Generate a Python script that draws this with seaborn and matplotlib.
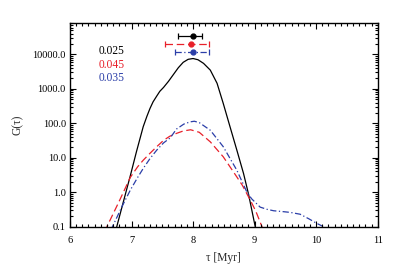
import matplotlib
matplotlib.use('Agg')
import matplotlib.pyplot as plt
import seaborn as sns
import pandas as pd
from matplotlib.ticker import FixedLocator, MultipleLocator, LogLocator, NullFormatter

# Curve data (tau in Myr, G(tau))
tau_black = [6.74, 6.76, 6.87, 6.98, 7.08, 7.19, 7.25, 7.30, 7.35, 7.41, 7.46, 7.52, 7.60,
             7.68, 7.76, 7.84, 7.92, 8.00, 8.08, 8.17, 8.28, 8.39, 8.49, 8.60, 8.71, 8.82,
             8.90, 9.01, 9.04]
g_black = [0.07, 0.1, 0.55, 3.0, 15, 80, 160, 270, 420, 620, 850, 1100, 1650,
           2600, 4100, 5900, 7200, 7600, 7000, 5500, 3500, 1450, 380, 80, 17, 3.5,
           0.9, 0.1, 0.06]

tau_red = [6.58, 6.60, 6.80, 6.98, 7.10, 7.19, 7.30, 7.41, 7.52, 7.62, 7.73, 7.84, 7.96,
           8.10, 8.28, 8.49, 8.71, 8.80, 8.93, 9.02, 9.12, 9.15]
g_red = [0.07, 0.1, 0.55, 2.7, 5.5, 8.5, 13.5, 21, 32, 42, 51, 60, 65,
         55, 29, 10.7, 2.8, 1.6, 0.59, 0.28, 0.1, 0.08]

tau_blue = [6.67, 6.69, 6.85, 6.98, 7.10, 7.19, 7.30, 7.41, 7.52, 7.63, 7.73, 7.85, 7.95,
            8.02, 8.10, 8.28, 8.49, 8.71, 8.87, 8.95, 9.09, 9.20, 9.31,
            9.45, 9.58, 9.74, 9.88, 10.01, 10.12, 10.15]
g_blue = [0.08, 0.1, 0.4, 1.15, 2.7, 4.9, 9.5, 16.7, 27, 38, 68, 95, 110,
          115, 105, 63, 21, 4.4, 1.05, 0.65, 0.37, 0.32, 0.29,
          0.275, 0.26, 0.23, 0.17, 0.125, 0.1, 0.09]

# Error bar points at the top
eb_labels = ['0.025', '0.045', '0.035']
eb_x = [8.0, 7.96, 8.0]
eb_y = [3.4e4, 2.0e4, 1.2e4]
eb_lo = [7.76, 7.54, 7.70]
eb_hi = [8.15, 8.26, 8.26]

ytick_vals = [0.1, 1, 10, 100, 1000, 10000]
ytick_labels = ['0.1', '1.0', '10.0', '100.0', '1000.0', '10000.0']

black = '#000000'
red = '#e8202a'
blue = '#2b3ea8'
colors = [black, red, blue]
styles = ['-', (0, (6, 3)), (0, (5, 2, 1, 2))]

sns.set_style('ticks')
plt.rcParams['font.family'] = ['Liberation Serif', 'DejaVu Serif']
plt.rcParams['xtick.direction'] = 'in'
plt.rcParams['ytick.direction'] = 'in'
plt.rcParams['xtick.major.size'] = 4
plt.rcParams['ytick.major.size'] = 4
plt.rcParams['xtick.minor.size'] = 2
plt.rcParams['ytick.minor.size'] = 2
plt.rcParams['axes.axisbelow'] = False

fig = plt.figure(figsize=(3.99, 2.73), dpi=100)
ax = fig.add_axes([0.1754, 0.1696, 0.7712, 0.7451])

curves = [(tau_black, g_black), (tau_red, g_red), (tau_blue, g_blue)]
for (t, g), c, ls in zip(curves, colors, styles):
    df = pd.DataFrame({'tau': t, 'G': g})
    sns.lineplot(data=df, x='tau', y='G', ax=ax, color=c, linewidth=0.9,
                 linestyle=ls, sort=False, estimator=None)

for i in range(3):
    xerr = [[eb_x[i] - eb_lo[i]], [eb_hi[i] - eb_x[i]]]
    eb = ax.errorbar([eb_x[i]], [eb_y[i]], xerr=xerr, fmt='o', color=colors[i],
                     markersize=3.5, capsize=2, elinewidth=0.9, capthick=0.9)
    eb[2][0].set_linestyle(styles[i])

label_y = [12400, 4870, 2040]
for lab, c, yv in zip(eb_labels, colors, label_y):
    ax.text(6.47, yv, lab, color=c, fontsize=8.3, va='center', ha='left')

ax.set_yscale('log')
ax.set_xlim(6, 11)
ax.set_ylim(0.1, 8e4)
ax.xaxis.set_major_locator(MultipleLocator(1))
ax.xaxis.set_minor_locator(MultipleLocator(0.1))
ax.yaxis.set_major_locator(FixedLocator(ytick_vals))
ax.set_yticklabels(ytick_labels)
ax.yaxis.set_minor_locator(LogLocator(base=10, subs=range(2, 10), numticks=20))
ax.yaxis.set_minor_formatter(NullFormatter())

ax.tick_params(which='both', direction='in', top=True, right=True, bottom=True, left=True,
               labelsize=7.5, width=0.8, color='black', labelcolor='black')
ax.tick_params(which='major', length=4)
ax.tick_params(which='minor', length=2)
ax.tick_params(axis='x', pad=7)
ax.tick_params(axis='y', pad=3)
for s in ax.spines.values():
    s.set_linewidth(1.0)
    s.set_color('black')

ax.set_xlabel('τ [Myr]', fontsize=8.3, labelpad=5)
ax.set_ylabel('G(τ)', fontsize=8.3, labelpad=6)

fig.savefig('out.png', dpi=100)
